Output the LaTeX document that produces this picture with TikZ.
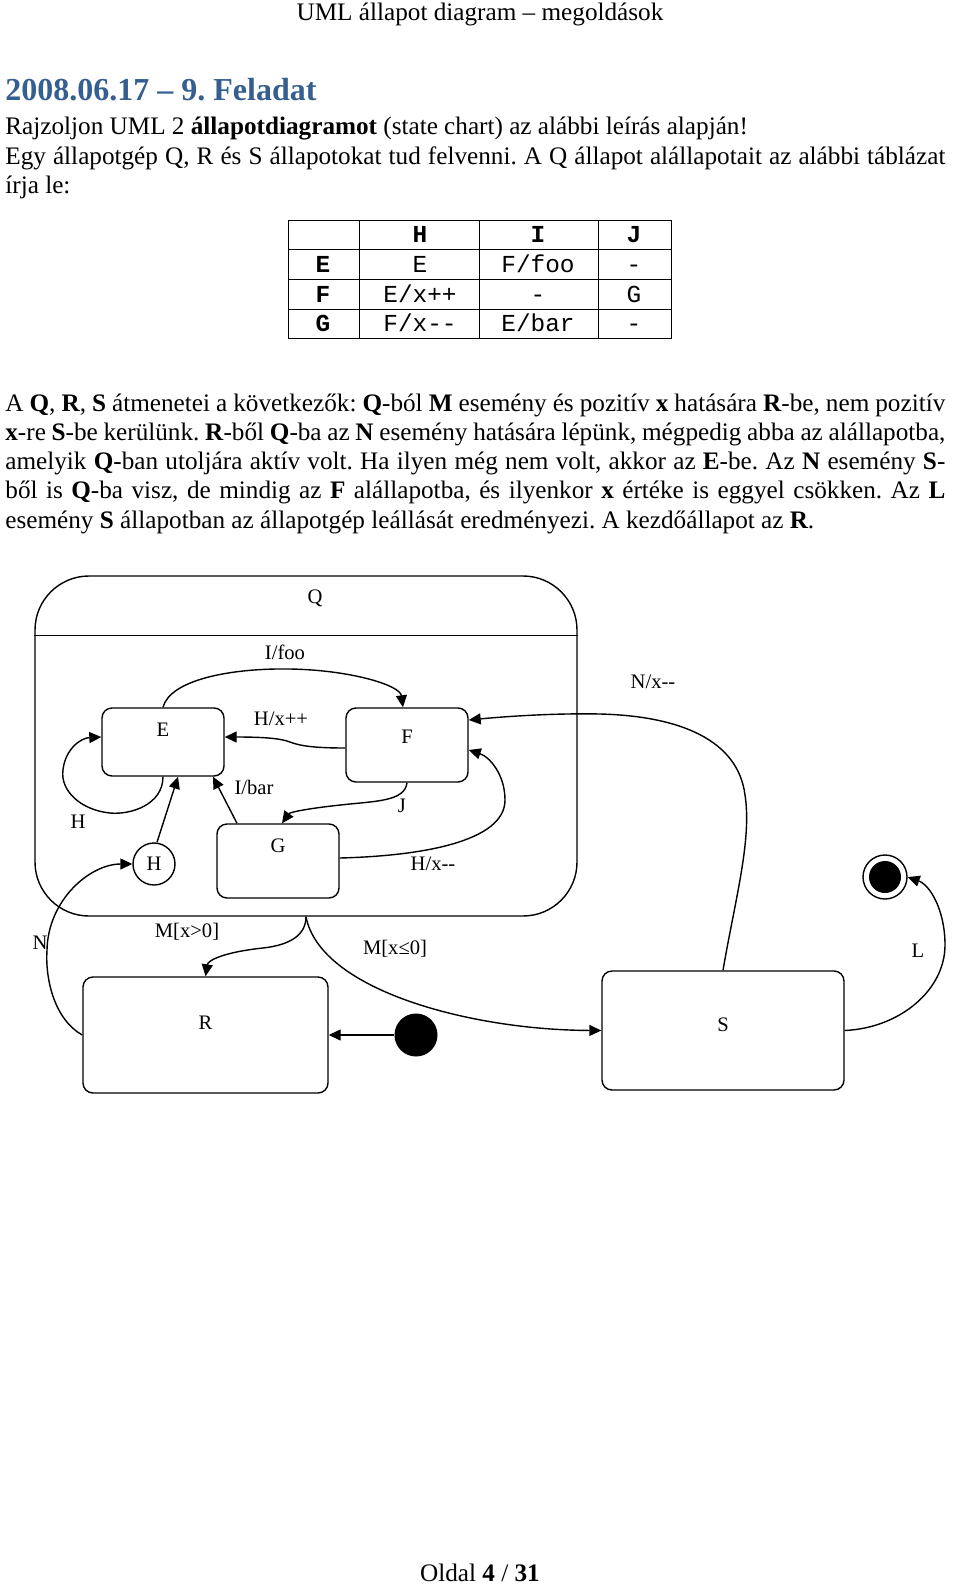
\documentclass[tikz,border=0pt]{standalone}
\usepackage{fontspec}
\setmainfont{Liberation Serif}
\setmonofont{Liberation Mono}
\usetikzlibrary{arrows.meta}

\definecolor{headblue}{HTML}{365F91}
\newcommand{\jline}[1]{\makebox[470pt][s]{#1}}
\frenchspacing

\begin{document}
\begin{tikzpicture}[x=0.5pt, y=-0.5pt,
    txt/.style={anchor=base west, inner sep=0pt, font=\fontsize{12.6}{15}\selectfont},
    cell/.style={anchor=base, inner sep=0pt, font=\fontsize{12.2}{14}\selectfont\ttfamily},
    hcell/.style={cell, font=\fontsize{12.2}{14}\selectfont\ttfamily\bfseries},
    st/.style={draw, line width=0.7pt, rounded corners=5pt},
    lbl/.style={inner sep=0pt, font=\fontsize{10.3}{12}\selectfont},
    tr/.style={line width=0.7pt, -{Triangle[length=6pt,width=5.5pt]}}]
    \useasboundingbox (0,0) rectangle (960,1584);

    % Fejlec es cim
    \node[anchor=base, inner sep=0pt, font=\fontsize{12.6}{15}\selectfont] (hdr) at (480,21) {UML állapot diagram – megoldások};
    \node[txt, font=\fontsize{16}{19}\selectfont\bfseries, text=headblue] (ttl) at (5,101) {2008.06.17 – 9. Feladat};

    % Bevezeto szoveg
    \node[txt] (ln1) at (5,134.5) {Rajzoljon UML 2 \textbf{állapotdiagramot} (state chart) az alábbi leírás alapján!};
    \node[txt] (ln2) at (5,164) {\jline{Egy állapotgép Q, R és S állapotokat tud felvenni. A Q állapot alállapotait az alábbi táblázat}};
    \node[txt] (ln3) at (5,193) {írja le:};

    % Tablazat
    \draw[line width=0.5pt] (288,220) rectangle (671,338);
    \draw[line width=0.5pt] (359,220) -- (359,338);
    \draw[line width=0.5pt] (479,220) -- (479,338);
    \draw[line width=0.5pt] (598,220) -- (598,338);
    \draw[line width=0.5pt] (288,249) -- (671,249);
    \draw[line width=0.5pt] (288,279) -- (671,279);
    \draw[line width=0.5pt] (288,309) -- (671,309);
    \node[hcell] (tH) at (420,242) {H};
    \node[hcell] (tI) at (538,242) {I};
    \node[hcell] (tJ) at (634,242) {J};
    \node[hcell] (tE) at (323,272) {E};
    \node[hcell] (tF) at (323,302) {F};
    \node[hcell] (tG) at (323,331) {G};
    \node[cell] (tEH) at (420,272) {E};
    \node[cell] (tEI) at (538,272) {F/foo};
    \node[cell] (tEJ) at (634,272) {-};
    \node[cell] (tFH) at (420,302) {E/x++};
    \node[cell] (tFI) at (538,302) {-};
    \node[cell] (tFJ) at (634,302) {G};
    \node[cell] (tGH) at (420,331) {F/x-{}-};
    \node[cell] (tGI) at (538,331) {E/bar};
    \node[cell] (tGJ) at (634,331) {-};

    % Leiras
    \node[txt] (p1) at (5,411) {\jline{A \textbf{Q}, \textbf{R}, \textbf{S} átmenetei a következők: \textbf{Q}-ból \textbf{M} esemény és pozitív \textbf{x} hatására \textbf{R}-be, nem pozitív}};
    \node[txt] (p2) at (5,440.3) {\jline{\textbf{x}-re \textbf{S}-be kerülünk. \textbf{R}-ből \textbf{Q}-ba az \textbf{N} esemény hatására lépünk, mégpedig abba az alállapotba,}};
    \node[txt] (p3) at (5,469.6) {\jline{amelyik \textbf{Q}-ban utoljára aktív volt. Ha ilyen még nem volt, akkor az \textbf{E}-be. Az \textbf{N} esemény \textbf{S}-}};
    \node[txt] (p4) at (5,498.9) {\jline{ből is \textbf{Q}-ba visz, de mindig az \textbf{F} alállapotba, és ilyenkor \textbf{x} értéke is eggyel csökken. Az \textbf{L}}};
    \node[txt] (p5) at (5,528.2) {esemény \textbf{S} állapotban az állapotgép leállását eredményezi. A kezdőállapot az \textbf{R}.};

    % Q osszetett allapot
    \node[draw, line width=0.7pt, rounded corners=27pt, minimum width=271pt, minimum height=170pt] (Q) at (306,746) {};
    \node[lbl] (Qn) at (315,598) {Q};
    \draw[line width=0.7pt] ([yshift=-30pt]Q.north west) -- ([yshift=-30pt]Q.north east);

    % Alallapotok
    \node[st, minimum width=61pt, minimum height=34pt, label={[lbl, below=7.5pt]north:E}] (E) at (163,742) {};
    \node[st, minimum width=61pt, minimum height=37pt, label={[lbl, below=11pt]north:F}] (F) at (407,745) {};
    \node[st, minimum width=61pt, minimum height=37pt, label={[lbl, below=7.5pt]north:G}] (G) at (278,861) {};
    \node[draw, circle, line width=0.7pt, minimum size=21pt, inner sep=0pt, font=\fontsize{10.3}{12}\selectfont] (hist) at (154,864) {H};

    % R es S
    \node[st, minimum width=122.5pt, minimum height=58pt, label={[lbl, below=19.5pt]north:R}] (R) at (205.5,1035) {};
    \node[st, minimum width=121pt, minimum height=59.5pt, label={[lbl, below=23.5pt]north:S}] (S) at (723,1030.5) {};

    % Kezdo es vegallapot
    \node[circle, fill, minimum size=21.5pt, inner sep=0pt] (init) at (416,1035) {};
    \node[circle, draw, line width=0.7pt, minimum size=22pt, inner sep=0pt,
          path picture={\fill (path picture bounding box.center) circle (8pt);}] (fin) at (885,877) {};

    % Atmenetek Q-n belul
    \draw[tr] (E.north) .. controls (170,680) and (230,668) .. (290,669) .. controls (350,670) and (400,685) .. ([xshift=-2pt]F.north);
    \node[lbl] (lfoo) at (285,652) {I/foo};
    \draw[tr] ([yshift=-1.5pt]F.west) .. controls (315,748) and (300,746) .. (290,742) .. controls (280,738) and (260,737) .. ([yshift=2.5pt]E.east);
    \node[lbl] (lxpp) at (281,719) {H/x++};
    \draw[tr] ([xshift=-20.5pt]G.north) -- ([xshift=25pt]E.south);
    \node[lbl] (lbar) at (254,787) {I/bar};
    \draw[tr] (F.south) .. controls (405,800) and (380,801) .. (350,804) .. controls (310,808) and (290,812) .. ([xshift=2pt]G.north);
    \node[lbl] (lj) at (402,806) {J};
    \draw[tr] ([yshift=1.5pt]G.east) .. controls (420,856) and (505,842) .. (505,800) .. controls (505,775) and (490,757) .. ([yshift=-2.5pt]F.east);
    \node[lbl] (lxmm) at (433,864) {H/x-{}-};
    \draw[tr] (E.south) .. controls (163,805) and (130,815) .. (110,813) .. controls (80,810) and (60,790) .. (63,770) .. controls (65,750) and (80,738) .. ([yshift=2.5pt]E.west);
    \node[lbl] (lh) at (78,822) {H};
    \draw[tr] ([xshift=1.5pt]hist.north) -- ([xshift=7.5pt]E.south);

    % Atmenetek Q, R, S kozott
    \draw[tr] (R.west) .. controls (55,1020) and (45,980) .. (47,950) .. controls (48,900) and (90,864) .. (hist.west);
    \node[lbl] (ln) at (40,943) {N};
    \draw[tr] (Q.south) .. controls (306,935) and (290,945) .. (263,948) .. controls (225,952) and (208,960) .. (R.north);
    \node[lbl] (lgt) at (187,932) {M[x>0]};
    \draw[tr] (Q.south) .. controls (320,990) and (470,1030) .. (S.west);
    \node[lbl] (lle) at (395,949) {M[x≤0]};
    \draw[tr] (S.north) .. controls (735,900) and (752,840) .. (745,795) .. controls (738,740) and (680,716) .. (600,714) .. controls (550,713) and (500,717) .. ([yshift=12.5pt]F.east);
    \node[lbl] (lnx) at (653,682) {N/x-{}-};
    \draw[tr] (S.east) .. controls (900,1028) and (945,990) .. (945,945) .. controls (945,910) and (930,885) .. (fin.east);
    \node[lbl] (ll) at (918,951) {L};
    \draw[tr] (init) -- (R.east);

    % Lablec
    \node[anchor=base, inner sep=0pt, font=\fontsize{12.6}{15}\selectfont] (ftr) at (480,1581) {Oldal \textbf{4} / \textbf{31}};
\end{tikzpicture}
\end{document}
